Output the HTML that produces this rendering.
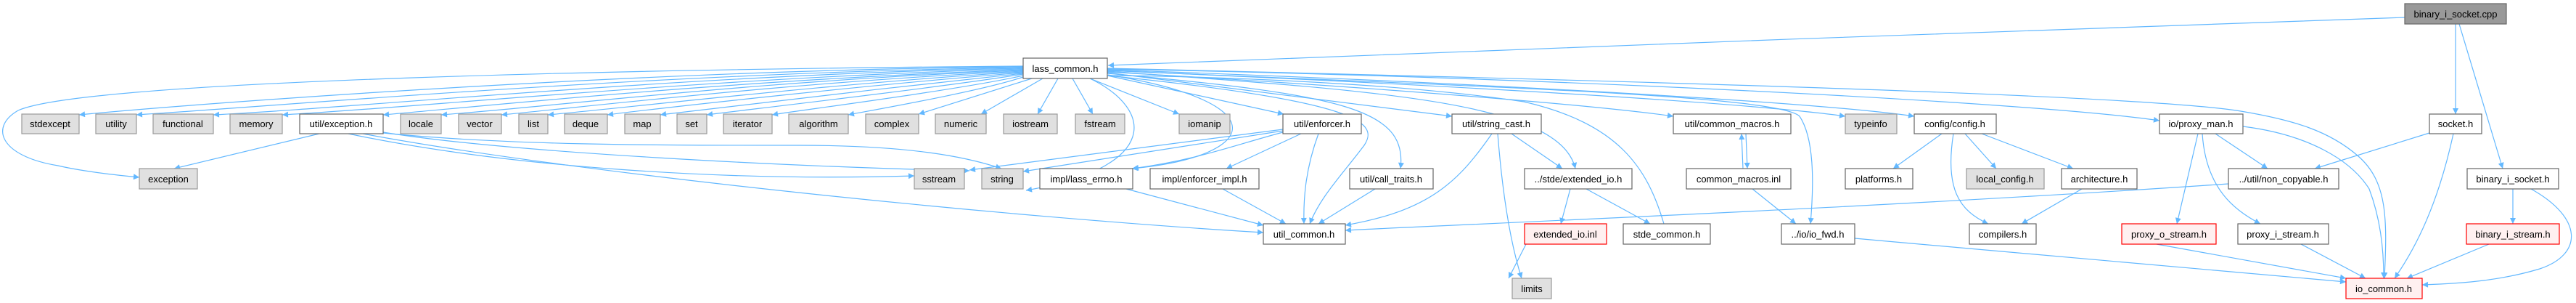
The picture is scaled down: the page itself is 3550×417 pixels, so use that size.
<!DOCTYPE html>
<html><head><meta charset="utf-8"><style>
html,body{margin:0;padding:0;background:#fff;}
svg{display:block;}
text{font-family:"Liberation Sans","DejaVu Sans",sans-serif;font-size:13px;fill:#000;text-anchor:middle;}
.e{fill:none;stroke:#63b8ff;stroke-width:1.2;}
.w{fill:#fff;stroke:#666;stroke-width:1.2;}
.g{fill:#e0e0e0;stroke:#999;stroke-width:1.2;}
.r{fill:#fff0f0;stroke:#f00;stroke-width:1.2;}
.k{fill:#999;stroke:#666;stroke-width:1.2;}
</style></head><body>
<svg width="3550" height="417" viewBox="0 0 3550 417" xmlns="http://www.w3.org/2000/svg">
<defs><marker id="a" viewBox="0 0 10 10" refX="10" refY="5" markerWidth="10" markerHeight="8" orient="auto" markerUnits="userSpaceOnUse"><path d="M0,0 L10,5 L0,10 z" fill="#63b8ff"/></marker></defs>
<g marker-end="url(#a)">
<!-- root -->
<path class="e" d="M3314,24 C2800,40 2000,72 1527,90"/>
<path class="e" d="M3384,33 L3384,157"/>
<path class="e" d="M3389,33 L3449,232"/>
<!-- lass_common to row2 left -->
<path class="e" d="M1410,92 C900,96 300,140 109,158"/>
<path class="e" d="M1410,93 C900,100 400,145 188,158"/>
<path class="e" d="M1410,94 C950,102 500,148 294,158"/>
<path class="e" d="M1410,95 C1000,105 550,150 389,158"/>
<path class="e" d="M1410,96 C1000,110 650,148 528,158"/>
<path class="e" d="M1410,97 C1050,110 750,148 608,158"/>
<path class="e" d="M1410,98 C1100,112 800,148 691,158"/>
<path class="e" d="M1410,99 C1150,114 850,150 755,158"/>
<path class="e" d="M1410,100 C1200,116 900,150 837,158"/>
<path class="e" d="M1410,101 C1250,118 950,152 910,158"/>
<path class="e" d="M1410,102 C1300,120 1020,152 974,158"/>
<path class="e" d="M1410,104 C1320,124 1100,152 1064,158"/>
<path class="e" d="M1410,106 C1350,126 1200,152 1169,158"/>
<path class="e" d="M1422,108 L1266,157"/>
<path class="e" d="M1437,108 L1352,157"/>
<path class="e" d="M1458,108 L1430,157"/>
<path class="e" d="M1478,108 L1506,157"/>
<path class="e" d="M1502,108 L1625,157"/>
<path class="e" d="M1526,104 L1769,157"/>
<!-- exception around left -->
<path class="e" d="M1410,91 C900,95 120,110 25,152 C-15,175 0,215 80,228 C110,235 150,240 192,244"/>
<!-- to row3 -->
<path class="e" d="M1502,108 C1590,150 1600,230 1414,262"/>
<path class="e" d="M1527,103 C1760,140 1740,215 1560,232"/>
<!-- right of lass -->
<path class="e" d="M1526,100 L2001,160"/>
<path class="e" d="M1526,101 C1850,130 1940,150 1930,232"/>
<path class="e" d="M1526,98 C1900,125 2150,140 2171,232"/>
<path class="e" d="M1526,104 C1880,140 1900,170 1880,200 C1850,240 1820,270 1805,308"/>
<path class="e" d="M1526,99 C1900,120 2200,145 2306,160"/>
<path class="e" d="M1526,97 C1950,115 2400,140 2543,160"/>
<path class="e" d="M1526,96 C2000,112 2500,140 2638,160"/>
<path class="e" d="M1526,97 C2000,118 2450,130 2480,160 C2500,190 2500,250 2495,308"/>
<path class="e" d="M1526,95 C2100,105 2800,140 2976,166"/>
<path class="e" d="M1526,94 C2200,110 2950,130 3088,153 C3160,165 3210,180 3250,215 C3290,250 3290,300 3286,383"/>
<!-- util/exception.h -->
<path class="e" d="M440,184 L240,232"/>
<path class="e" d="M528,182 C700,210 1100,230 1336,235"/>
<path class="e" d="M528,183 C700,200 900,200 1100,200 C1250,200 1330,215 1380,232"/>
<path class="e" d="M500,184 C800,240 1400,300 1741,320"/>
<path class="e" d="M480,184 C700,230 1000,250 1260,242"/>
<!-- util/enforcer.h -->
<path class="e" d="M1768,178 L1336,234"/>
<path class="e" d="M1768,180 L1410,236"/>
<path class="e" d="M1768,182 C1700,200 1650,220 1561,232"/>
<path class="e" d="M1793,184 L1690,232"/>
<path class="e" d="M1817,184 C1800,230 1796,270 1797,308"/>
<!-- row3 to util_common -->
<path class="e" d="M1552,260 L1741,310"/>
<path class="e" d="M1685,260 L1772,308"/>
<path class="e" d="M1895,260 L1817,308"/>
<path class="e" d="M2056,184 C2010,250 1970,290 1854,310"/>
<path class="e" d="M2064,184 C2070,260 2080,330 2097,383"/>
<path class="e" d="M2083,184 L2153,232"/>
<path class="e" d="M2164,260 L2151,308"/>
<path class="e" d="M2103,336 L2079,383"/>
<path class="e" d="M2186,260 L2274,308"/>
<path class="e" d="M3071,253 C2600,285 2100,305 1854,317"/>
<!-- common macros -->
<path class="e" d="M2406,184 L2408,232"/>
<path class="e" d="M2402,232 L2400,184"/>
<path class="e" d="M2415,260 L2475,308"/>
<path class="e" d="M2556,328 C2800,350 3050,370 3233,388"/>
<!-- config -->
<path class="e" d="M2676,184 L2609,232"/>
<path class="e" d="M2708,184 L2751,232"/>
<path class="e" d="M2731,184 L2857,232"/>
<path class="e" d="M2692,184 C2680,260 2700,290 2740,308"/>
<path class="e" d="M2869,260 L2786,308"/>
<!-- proxy_man -->
<path class="e" d="M3053,184 L3125,232"/>
<path class="e" d="M3029,184 L3000,308"/>
<path class="e" d="M3035,184 C3040,260 3080,290 3115,308"/>
<path class="e" d="M3091,174 C3180,185 3240,220 3265,260 C3280,300 3285,340 3285,383"/>
<!-- socket -->
<path class="e" d="M3348,183 L3190,232"/>
<path class="e" d="M3381,184 C3360,280 3330,340 3300,383"/>
<!-- binary_i_socket.h -->
<path class="e" d="M3463,260 L3463,308"/>
<path class="e" d="M3488,260 C3560,300 3560,350 3500,370 C3450,385 3400,390 3338,392"/>
<!-- io_common -->
<path class="e" d="M2972,336 L3233,383"/>
<path class="e" d="M3171,336 L3260,383"/>
<path class="e" d="M3430,336 L3317,383"/>
</g>
<path class="e" d="M2293,308 C2270,230 2230,170 2100,140 C1900,110 1600,104 1527,104"/>

<!-- nodes -->
<rect class="k" x="3314" y="5" width="140" height="28"/><text x="3384" y="24">binary_i_socket.cpp</text>
<rect class="w" x="1410" y="80" width="116" height="28"/><text x="1468" y="99">lass_common.h</text>

<rect class="g" x="30" y="157" width="79" height="27"/><text x="69" y="175">stdexcept</text>
<rect class="g" x="132" y="157" width="56" height="27"/><text x="160" y="175">utility</text>
<rect class="g" x="211" y="157" width="83" height="27"/><text x="252" y="175">functional</text>
<rect class="g" x="317" y="157" width="72" height="27"/><text x="353" y="175">memory</text>
<rect class="w" x="413" y="157" width="115" height="27"/><text x="470" y="175">util/exception.h</text>
<rect class="g" x="552" y="157" width="56" height="27"/><text x="580" y="175">locale</text>
<rect class="g" x="632" y="157" width="59" height="27"/><text x="661" y="175">vector</text>
<rect class="g" x="715" y="157" width="40" height="27"/><text x="735" y="175">list</text>
<rect class="g" x="778" y="157" width="59" height="27"/><text x="807" y="175">deque</text>
<rect class="g" x="861" y="157" width="49" height="27"/><text x="885" y="175">map</text>
<rect class="g" x="933" y="157" width="41" height="27"/><text x="953" y="175">set</text>
<rect class="g" x="997" y="157" width="67" height="27"/><text x="1030" y="175">iterator</text>
<rect class="g" x="1087" y="157" width="82" height="27"/><text x="1128" y="175">algorithm</text>
<rect class="g" x="1193" y="157" width="73" height="27"/><text x="1229" y="175">complex</text>
<rect class="g" x="1289" y="157" width="70" height="27"/><text x="1324" y="175">numeric</text>
<rect class="g" x="1383" y="157" width="74" height="27"/><text x="1420" y="175">iostream</text>
<rect class="g" x="1482" y="157" width="68" height="27"/><text x="1516" y="175">fstream</text>
<rect class="g" x="1625" y="157" width="70" height="27"/><text x="1660" y="175">iomanip</text>
<rect class="w" x="1768" y="157" width="108" height="27"/><text x="1822" y="175">util/enforcer.h</text>
<rect class="w" x="2001" y="157" width="123" height="27"/><text x="2062" y="175">util/string_cast.h</text>
<rect class="w" x="2306" y="157" width="162" height="27"/><text x="2387" y="175">util/common_macros.h</text>
<rect class="g" x="2543" y="157" width="71" height="27"/><text x="2578" y="175">typeinfo</text>
<rect class="w" x="2638" y="157" width="113" height="27"/><text x="2694" y="175">config/config.h</text>
<rect class="w" x="2976" y="157" width="115" height="27"/><text x="3033" y="175">io/proxy_man.h</text>
<rect class="w" x="3348" y="157" width="72" height="27"/><text x="3384" y="175">socket.h</text>

<rect class="g" x="192" y="232" width="80" height="28"/><text x="232" y="251">exception</text>
<rect class="g" x="1260" y="232" width="69" height="28"/><text x="1294" y="251">sstream</text>
<rect class="g" x="1353" y="232" width="57" height="28"/><text x="1381" y="251">string</text>
<rect class="w" x="1433" y="232" width="128" height="28"/><text x="1497" y="251">impl/lass_errno.h</text>
<rect class="w" x="1585" y="232" width="150" height="28"/><text x="1660" y="251">impl/enforcer_impl.h</text>
<rect class="w" x="1860" y="232" width="115" height="28"/><text x="1917" y="251">util/call_traits.h</text>
<rect class="w" x="2101" y="232" width="148" height="28"/><text x="2175" y="251">../stde/extended_io.h</text>
<rect class="w" x="2324" y="232" width="144" height="28"/><text x="2396" y="251">common_macros.inl</text>
<rect class="w" x="2543" y="232" width="93" height="28"/><text x="2589" y="251">platforms.h</text>
<rect class="g" x="2710" y="232" width="107" height="28"/><text x="2763" y="251">local_config.h</text>
<rect class="w" x="2841" y="232" width="104" height="28"/><text x="2893" y="251">architecture.h</text>
<rect class="w" x="3071" y="232" width="152" height="28"/><text x="3147" y="251">../util/non_copyable.h</text>
<rect class="w" x="3400" y="232" width="126" height="28"/><text x="3463" y="251">binary_i_socket.h</text>

<rect class="w" x="1741" y="308" width="113" height="28"/><text x="1797" y="327">util_common.h</text>
<rect class="r" x="2101" y="308" width="113" height="28"/><text x="2157" y="327">extended_io.inl</text>
<rect class="w" x="2237" y="308" width="120" height="28"/><text x="2297" y="327">stde_common.h</text>
<rect class="w" x="2455" y="308" width="101" height="28"/><text x="2505" y="327">../io/io_fwd.h</text>
<rect class="w" x="2714" y="308" width="92" height="28"/><text x="2760" y="327">compilers.h</text>
<rect class="r" x="2924" y="308" width="130" height="28"/><text x="2989" y="327">proxy_o_stream.h</text>
<rect class="w" x="3084" y="308" width="125" height="28"/><text x="3146" y="327">proxy_i_stream.h</text>
<rect class="r" x="3399" y="308" width="128" height="28"/><text x="3463" y="327">binary_i_stream.h</text>

<rect class="g" x="2084" y="383" width="54" height="28"/><text x="2111" y="402">limits</text>
<rect class="r" x="3233" y="383" width="105" height="28"/><text x="3285" y="402">io_common.h</text>
</svg>
</body></html>
